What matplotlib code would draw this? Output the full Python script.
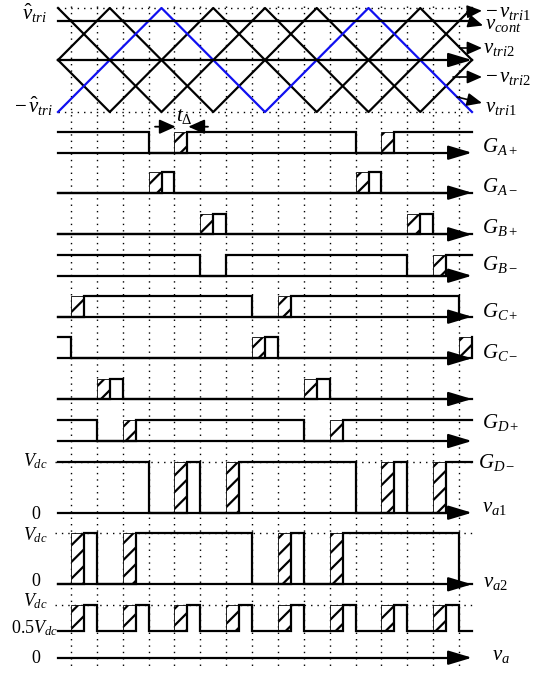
import matplotlib.pyplot as plt
from matplotlib.patches import Rectangle

plt.rcParams['font.family'] = 'Liberation Serif'
plt.rcParams['mathtext.fontset'] = 'custom'
plt.rcParams['mathtext.rm'] = 'Liberation Serif'
plt.rcParams['mathtext.it'] = 'Liberation Serif:italic'
plt.rcParams['mathtext.bf'] = 'Liberation Serif:bold'
plt.rcParams['hatch.linewidth'] = 1.6
plt.rcParams['hatch.color'] = '#444444'

# carriers, time unit = 1/16 of the shown window
tri1_t = [0, 4, 8, 12, 16]
tri1_v = [-1, 1, -1, 1, -1]
tri2_t = [0, 2, 6, 10, 14, 16]
tri2_v = [0, 1, -1, 1, -1, 0]
v_cont = 0.75

# carrier / reference crossings
switch_t = [0.5, 1.5, 2.5, 3.5, 4.5, 5.5, 6.5, 7.5,
            8.5, 9.5, 10.5, 11.5, 12.5, 13.5, 14.5, 15.5]

# gate signals: on intervals and dead-time intervals
ga_p_on = [(0, 3.5), (5.0, 11.5), (13.0, 16)]
ga_p_dead = [(4.5, 5.0), (12.5, 13.0)]
ga_m_on = [(4.0, 4.5), (12.0, 12.5)]
ga_m_dead = [(3.5, 4.0), (11.5, 12.0)]
gb_p_on = [(6.0, 6.5), (14.0, 14.5)]
gb_p_dead = [(5.5, 6.0), (13.5, 14.0)]
gb_m_on = [(0, 5.5), (6.5, 13.5), (15.0, 16)]
gb_m_dead = [(14.5, 15.0)]
gc_p_on = [(1.0, 7.5), (9.0, 15.5)]
gc_p_dead = [(0.5, 1.0), (8.5, 9.0)]
gc_m_on = [(0, 0.5), (8.0, 8.5), (16.0, 16.5)]
gc_m_dead = [(7.5, 8.0), (15.5, 16.0)]
gd_p_on = [(2.0, 2.5), (10.0, 10.5)]
gd_p_dead = [(1.5, 2.0), (9.5, 10.0)]
gd_m_on = [(0, 1.5), (3.0, 9.5), (11.0, 16)]
gd_m_dead = [(2.5, 3.0), (10.5, 11.0)]

# leg and output voltages
va1_on = [(0, 3.5), (5.0, 5.5), (7.0, 11.5), (13.0, 13.5), (15.0, 16)]
va1_dead = [(4.5, 5.0), (6.5, 7.0), (12.5, 13.0), (14.5, 15.0)]
va2_on = [(1.0, 1.5), (3.0, 7.5), (9.0, 9.5), (11.0, 15.5)]
va2_dead = [(0.5, 1.0), (2.5, 3.0), (8.5, 9.0), (10.5, 11.0)]
va_on = [(1.0, 1.5), (3.0, 3.5), (5.0, 5.5), (7.0, 7.5),
         (9.0, 9.5), (11.0, 11.5), (13.0, 13.5), (15.0, 15.5)]
va_dead = [(0.5, 1.0), (2.5, 3.0), (4.5, 5.0), (6.5, 7.0),
           (8.5, 9.0), (10.5, 11.0), (12.5, 13.0), (14.5, 15.0)]

T_END = 16
X0, DX = 58, 25.875
LW = 1.6
FS = 15


def px(x):
    return (x - X0) / DX


def cy(v):
    return 60 - 52 * v


fig = plt.figure(figsize=(5.33, 6.75), dpi=100)
ax = fig.add_axes([0, 0, 1, 1])
ax.set_xlim(px(0), px(533))
ax.set_ylim(675, 0)
ax.axis('off')

dots = (0, (1, 3.6))


def arrow(x0, y0, x1, y1, hl=0.4, hw=0.12, ms=36, lw=LW):
    ax.annotate('', xy=(x1, y1), xytext=(x0, y0),
                arrowprops=dict(arrowstyle=f'-|>,head_length={hl},head_width={hw}',
                                mutation_scale=ms, color='k', lw=lw,
                                shrinkA=0, shrinkB=0), zorder=5)


def trace(on, lo, hi):
    xs = [0]
    ys = [hi if on[0][0] <= 0 else lo]
    for a, b in on:
        if a > 0:
            xs += [a, a]
            ys += [lo, hi]
        if b < T_END:
            xs += [b, b]
            ys += [hi, lo]
    xs.append(T_END)
    ys.append(hi if on[-1][1] >= T_END else lo)
    ax.plot(xs, ys, color='k', lw=LW, zorder=4, solid_joinstyle='miter')


def dead(intervals, lo, hi):
    for a, b in intervals:
        ax.add_patch(Rectangle((a, hi), b - a, lo - hi, facecolor='white',
                               edgecolor='k', lw=0.6, hatch='//', zorder=2))


def signal(on, dead_iv, base, high, with_arrow=True):
    if with_arrow:
        ax.plot([0, T_END - 0.6], [base, base], color='k', lw=LW, zorder=4)
        arrow(T_END - 0.8, base, T_END, base)
    dead(dead_iv, base, high)
    trace(on, base, high)


# vertical crossing lines
for t in switch_t:
    ax.plot([t, t], [6, 670], color='k', lw=1.0, ls=dots, zorder=1)

# carrier band
ax.plot([0, T_END], [cy(1), cy(1)], color='k', lw=1.0, ls=dots, zorder=1)
ax.plot([0, T_END], [cy(-1), cy(-1)], color='k', lw=1.0, ls=dots, zorder=1)
ax.plot(tri2_t, [cy(v) for v in tri2_v], color='k', lw=LW, zorder=3)
ax.plot(tri2_t, [cy(-v) for v in tri2_v], color='k', lw=LW, zorder=3)
ax.plot(tri1_t, [cy(-v) for v in tri1_v], color='k', lw=LW, zorder=3)
ax.plot(tri1_t, [cy(v) for v in tri1_v], color='#1010f0', lw=LW, zorder=3)
ax.plot([0, px(473)], [cy(v_cont), cy(v_cont)], color='k', lw=LW, zorder=4)
ax.plot([0, T_END - 0.6], [cy(0), cy(0)], color='k', lw=LW, zorder=4)
arrow(T_END - 0.8, cy(0), T_END, cy(0))

ax.text(px(22), 20, r'$\hat{v}_{tri}$', fontsize=FS, ha='left', va='baseline')
ax.text(px(14), 113, r'$-\,\hat{v}_{tri}$', fontsize=FS, ha='left', va='baseline')

# carrier labels with pointers
small = dict(hl=0.5, hw=0.22, ms=18, lw=1.2)
arrow(px(467), 11.7, px(482), 10.7, **small)
ax.text(px(485), 17, r'$-\,v_{tri1}$', fontsize=FS, va='baseline')
arrow(px(470), 21.5, px(483), 25.5, **small)
ax.text(px(485), 29, r'$v_{cont}$', fontsize=FS, va='baseline')
arrow(px(460), 48, px(482), 48, **small)
ax.text(px(483), 53, r'$v_{tri2}$', fontsize=FS, va='baseline')
arrow(px(453), 77, px(482), 77, **small)
ax.text(px(485), 82, r'$-\,v_{tri2}$', fontsize=FS, va='baseline')
arrow(px(457), 97, px(482), 103, **small)
ax.text(px(485), 112, r'$v_{tri1}$', fontsize=FS, va='baseline')

# dead time marker
arrow(px(155), 126.7, px(175.7), 126.7, hl=0.45, hw=0.2, ms=22, lw=1.3)
arrow(px(208), 126.7, px(188.3), 126.7, hl=0.45, hw=0.2, ms=22, lw=1.3)
ax.text(px(176), 121, r'$t_{\Delta}$', fontsize=FS, va='baseline')

# gate signals
rows = [
    (ga_p_on, ga_p_dead, 152.7, 132.3),
    (ga_m_on, ga_m_dead, 192.7, 172.3),
    (gb_p_on, gb_p_dead, 234.3, 214.0),
    (gb_m_on, gb_m_dead, 275.7, 255.0),
    (gc_p_on, gc_p_dead, 316.7, 296.0),
    (gc_m_on, gc_m_dead, 358.3, 337.3),
    (gd_p_on, gd_p_dead, 399.0, 379.0),
    (gd_m_on, gd_m_dead, 441.0, 420.0),
]
for on, dd, base, high in rows:
    signal(on, dd, base, high)

gate_labels = [
    (r'$G_{A+}$', 482, 152), (r'$G_{A-}$', 482, 192),
    (r'$G_{B+}$', 482, 233), (r'$G_{B-}$', 482, 270),
    (r'$G_{C+}$', 482, 317), (r'$G_{C-}$', 482, 358),
    (r'$G_{D+}$', 482, 428), (r'$G_{D-}$', 478, 468),
]
for s, x, y in gate_labels:
    ax.text(px(x), y, s, fontsize=FS, va='baseline')

# leg voltages
for y in (461.7, 533.3, 605.0):
    ax.plot([px(55), T_END], [y, y], color='k', lw=1.0, ls=dots, zorder=1)
signal(va1_on, va1_dead, 512.7, 461.7)
signal(va2_on, va2_dead, 584.3, 533.3)

# output voltage
dead(va_dead, 630.7, 605.0)
trace(va_on, 630.7, 605.0)
ax.plot([0, T_END - 0.6], [657.7, 657.7], color='k', lw=LW, zorder=4)
arrow(T_END - 0.8, 657.7, T_END, 657.7)

FL = 13
ax.text(px(48), 466, r'$V_{dc}$', fontsize=FL, ha='right', va='baseline')
ax.text(px(36), 519, '0', fontsize=FL, ha='center', va='baseline')
ax.text(px(48), 540, r'$V_{dc}$', fontsize=FL, ha='right', va='baseline')
ax.text(px(36), 586, '0', fontsize=FL, ha='center', va='baseline')
ax.text(px(48), 606, r'$V_{dc}$', fontsize=FL, ha='right', va='baseline')
ax.text(px(58), 633, r'$0.5V_{dc}$', fontsize=FL, ha='right', va='baseline')
ax.text(px(36), 663, '0', fontsize=FL, ha='center', va='baseline')

ax.text(px(482), 512, r'$v_{a1}$', fontsize=FS, va='baseline')
ax.text(px(483), 587, r'$v_{a2}$', fontsize=FS, va='baseline')
ax.text(px(492), 660, r'$v_{a}$', fontsize=FS, va='baseline')

fig.savefig('out.png', dpi=100)
